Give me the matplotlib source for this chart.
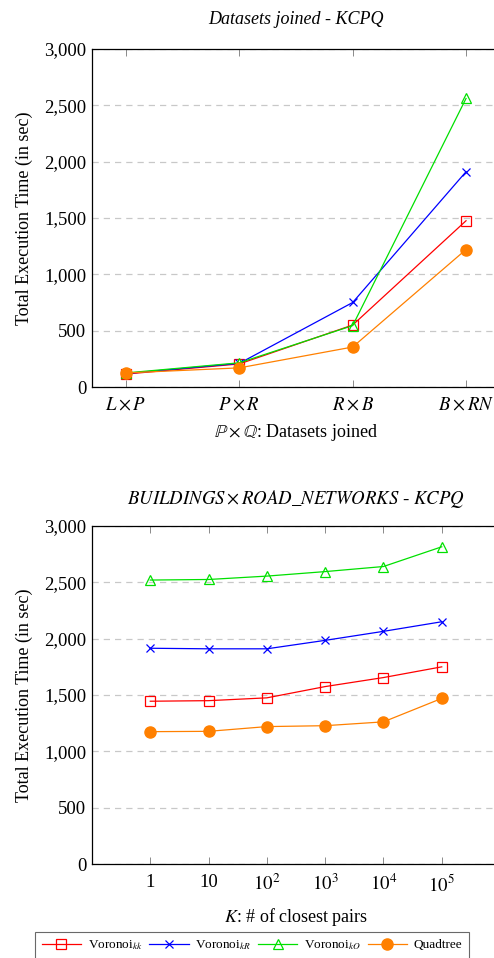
import numpy as np
import matplotlib.pyplot as plt
from matplotlib.ticker import FuncFormatter

plt.rcParams['font.family'] = ['Liberation Serif', 'DejaVu Serif']
plt.rcParams['mathtext.fontset'] = 'stix'

# top chart: datasets joined
pairs = [r'$L\times P$', r'$P\times R$', r'$R\times B$', r'$B\times RN$']
kk_ds = [115, 205, 550, 1475]
kr_ds = [120, 210, 750, 1910]
ko_ds = [125, 215, 545, 2560]
qt_ds = [125, 170, 355, 1220]

# bottom chart: K closest pairs
k_labels = ['1', '10', '$10^2$', '$10^3$', '$10^4$', '$10^5$']
kk_k = [1445, 1450, 1475, 1575, 1655, 1750]
kr_k = [1915, 1910, 1910, 1985, 2065, 2150]
ko_k = [2520, 2525, 2555, 2595, 2640, 2815]
qt_k = [1175, 1178, 1220, 1228, 1262, 1470]

names = [r'Voronoi$_{kk}$', r'Voronoi$_{kR}$', r'Voronoi$_{kO}$', 'Quadtree']
styles = [
    dict(color='red', marker='s', mfc='none', ms=7.5, mew=0.9),
    dict(color='blue', marker='x', ms=6, mew=0.9),
    dict(color='#00e000', marker='^', mfc='none', ms=7, mew=0.9),
    dict(color='#ff8000', marker='o', ms=8),
]

fig = plt.figure(figsize=(4.94, 9.58), dpi=100)
ax1 = fig.add_axes([0.1862, 0.596, 0.826, 0.353])
ax2 = fig.add_axes([0.1862, 0.098, 0.826, 0.353])

comma = FuncFormatter(lambda v, p: f'{int(v):,}')


def style_axis(ax):
    ax.set_ylim(0, 3000)
    ax.set_yticks(np.arange(0, 3001, 500))
    ax.yaxis.set_major_formatter(comma)
    ax.yaxis.grid(True, ls=(0, (5, 4)), color='#c8c8c8', lw=0.9)
    ax.set_axisbelow(True)
    ax.tick_params(axis='x', direction='in', top=True, length=5, width=0.6,
                   labelsize=13.5, pad=7, color='#777777')
    ax.tick_params(axis='y', direction='in', length=0, labelsize=13.5, pad=4)
    for s in ax.spines.values():
        s.set_linewidth(0.9)
    ax.set_ylabel('Total Execution Time (in sec)', fontsize=13, labelpad=8)


x1 = np.arange(1, len(pairs) + 1)
for ys, st in zip([kk_ds, kr_ds, ko_ds, qt_ds], styles):
    ax1.plot(x1, ys, lw=0.9, **st)
ax1.set_xlim(0.7, 4.3)
ax1.set_xticks(x1)
ax1.set_xticklabels(pairs)
style_axis(ax1)
ax1.set_title('Datasets joined - KCPQ', fontsize=13, style='italic', pad=18)
ax1.set_xlabel(r'$\mathbb{P}\times\mathbb{Q}$: Datasets joined', fontsize=13, labelpad=6)

x2 = np.arange(1, len(k_labels) + 1)
lines = []
for ys, st, nm in zip([kk_k, kr_k, ko_k, qt_k], styles, names):
    ln, = ax2.plot(x2, ys, lw=0.9, label=nm, **st)
    lines.append(ln)
ax2.set_xlim(0, 7)
ax2.set_xticks(x2)
ax2.set_xticklabels(k_labels)
style_axis(ax2)
ax2.set_title(r'$BUILDINGS \times ROAD\_NETWORKS$ - $KCPQ$', fontsize=13.5, pad=16)
ax2.set_xlabel('$K$: # of closest pairs', fontsize=13, labelpad=8)

leg = fig.legend(handles=lines, loc='upper center', bbox_to_anchor=(0.51, 1 - 925 / 958),
                 ncol=4, fontsize=9.5, frameon=True, fancybox=False, edgecolor='#444444',
                 handlelength=3.0, columnspacing=0.5, handletextpad=0.5, borderpad=0.5)
leg.get_frame().set_linewidth(0.8)

plt.savefig('out.png', dpi=100)
